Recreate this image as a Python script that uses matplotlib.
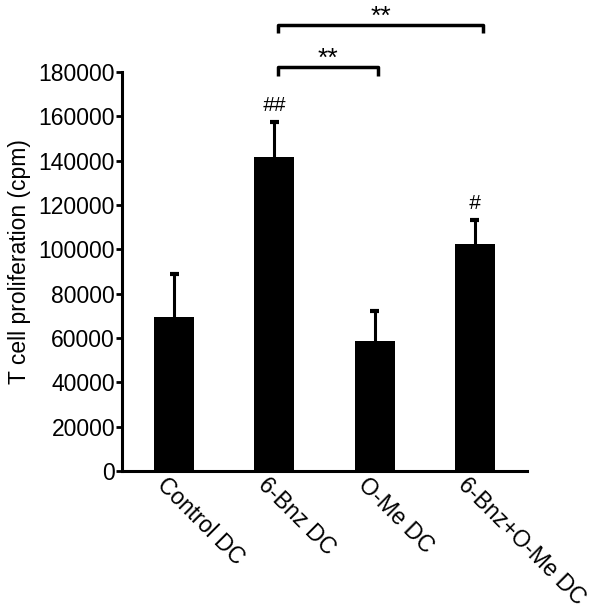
import matplotlib
matplotlib.use("Agg")
import matplotlib.pyplot as plt
import matplotlib.transforms as mtransforms

categories = ["Control DC", "6-Bnz DC", "O-Me DC", "6-Bnz+O-Me DC"]
means = [69500, 141600, 58800, 102400]
errors = [19300, 15800, 13400, 11000]
marks = ["", "##", "", "#"]
yticks = [0, 20000, 40000, 60000, 80000, 100000, 120000, 140000, 160000, 180000]

plt.rcParams['font.family'] = ['Liberation Sans', 'DejaVu Sans']

fig = plt.figure(figsize=(6.02, 6.13), dpi=100)
ax = fig.add_axes([122/602, 1-471/613, (527-122)/602, (471-72)/613])

x = list(range(len(categories)))
ax.bar(x, means, width=0.4, color='black', zorder=2)
tops = [m + e for m, e in zip(means, errors)]
ax.vlines(x, means, tops, color='black', lw=2.2, zorder=1)
ax.hlines(tops, [xi - 0.045 for xi in x], [xi + 0.045 for xi in x], color='black', lw=3, zorder=1)

for xi, t_, t in zip(x, tops, marks):
    if t:
        ax.text(xi, t_ + 7500, t, ha='center', va='center', fontsize=15, style='italic')

ax.set_xlim(-0.52, 3.52)
ax.set_ylim(0, 180000)
ax.set_yticks(yticks)
ax.set_yticklabels([str(v) for v in yticks], fontsize=16.5)
ax.tick_params(axis='y', length=4, width=2, pad=1)
ax.tick_params(axis='x', length=0, pad=1.5)
ax.set_xticks(x)
ax.set_xticklabels(categories, fontsize=16.5, rotation=-45, ha='left', va='top',
                   rotation_mode='anchor')
offset = mtransforms.ScaledTranslation(-0.05, 0.0, fig.dpi_scale_trans)
for lab in ax.get_xticklabels():
    lab.set_transform(lab.get_transform() + offset)

for s in ['top', 'right']:
    ax.spines[s].set_visible(False)
for s in ['left', 'bottom']:
    ax.spines[s].set_linewidth(2.2)

ax.set_ylabel("T cell proliferation (cpm)", fontsize=16.5)
ax.yaxis.set_label_coords(-0.225, 0.524)

def bracket(x1, x2, y, h, label):
    ax.plot([x1, x1, x2, x2], [y - h, y, y, y - h], color='black', lw=2.5,
            clip_on=False, solid_capstyle='butt')
    ax.text((x1 + x2) / 2, y + 3500, label, ha='center', va='center', fontsize=19,
            clip_on=False)

bracket(1.04, 2.03, 182300, 4000, "**")
bracket(1.04, 3.08, 201200, 3600, "**")

fig.savefig("out.png", dpi=100)
